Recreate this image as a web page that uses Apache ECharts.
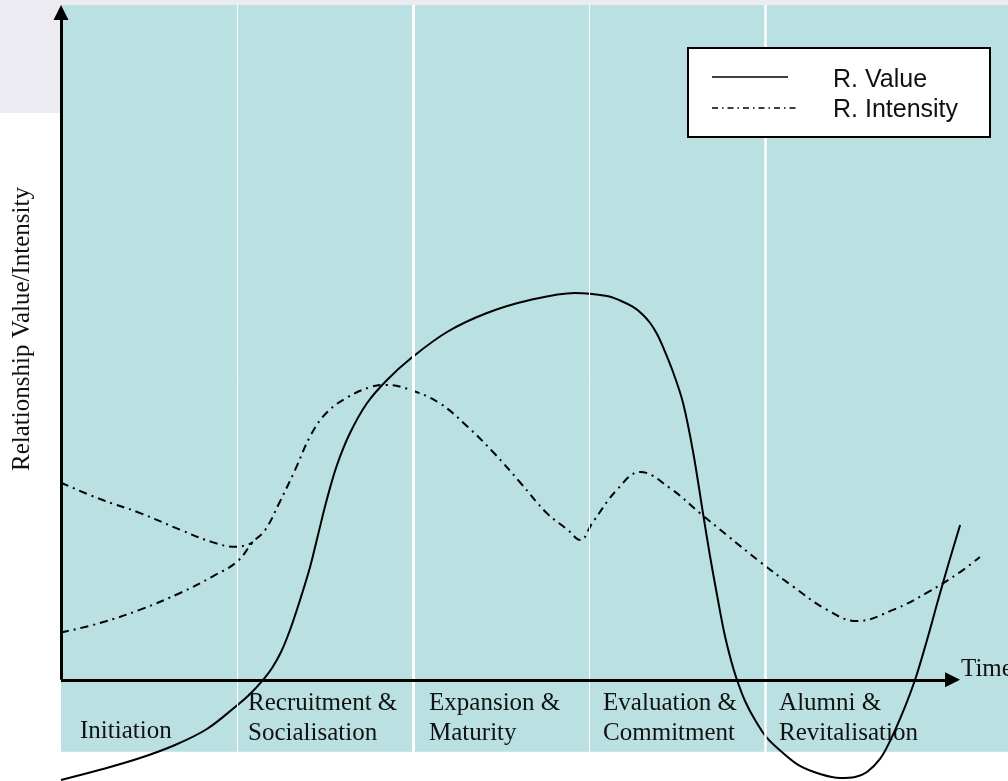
<!DOCTYPE html>
<html><head><meta charset="utf-8">
<script src="https://cdn.jsdelivr.net/npm/echarts@6/dist/echarts.min.js"></script>
<style>html,body{margin:0;padding:0;background:#fff}#c{width:1008px;height:781px}</style>
</head><body><div id="c"></div>
<script>
// ---- data (x in phase units, y in relative value units) ----
const phases = ['Initiation', 'Recruitment &\nSocialisation', 'Expansion &\nMaturity', 'Evaluation &\nCommitment', 'Alumni &\nRevitalisation'];
const phaseBounds = [0, 1, 2, 3, 4, 5.38];
const relValue = [[0,-14.85],[0.222,-13.34],[0.449,-11.59],[0.648,-9.66],[0.829,-7.29],[0.989,-4.03],[1.074,-2.1],[1.148,0],[1.199,1.75],[1.25,4.12],[1.301,7.38],[1.358,11.83],[1.415,16.72],[1.46,21.46],[1.511,26.79],[1.568,31.83],[1.642,36.57],[1.739,41.02],[1.852,44.43],[1.983,47.54],[2.193,51.54],[2.42,54.36],[2.665,56.28],[2.92,57.32],[3.102,56.88],[3.176,56.21],[3.25,55.25],[3.301,54.21],[3.347,52.87],[3.386,51.24],[3.42,49.32],[3.477,45.61],[3.534,41.02],[3.591,33.76],[3.647,24.72],[3.687,18.35],[3.727,12.57],[3.767,7.08],[3.806,2.93],[3.84,0],[3.886,-3.14],[3.943,-5.96],[4.011,-8.62],[4.102,-10.85],[4.198,-12.77],[4.312,-13.96],[4.426,-14.55],[4.511,-14.4],[4.579,-13.66],[4.653,-11.73],[4.71,-9.07],[4.783,-4.77],[4.852,0],[4.92,5.9],[4.983,11.83],[5.045,17.46],[5.108,22.94]];
const relIntensity = [[0,7.0],[0.22,8.4],[0.45,10.4],[0.68,12.9],[0.86,15.3],[1.0,17.5],[1.09,20.4],[1.16,22.2],[1.24,26.2],[1.33,31.1],[1.42,36.3],[1.51,39.6],[1.63,41.9],[1.76,43.4],[1.84,43.7],[1.97,43.1],[2.15,41.0],[2.31,37.5],[2.46,33.6],[2.61,29.2],[2.76,24.7],[2.88,22.2],[2.95,20.7],[3.02,23.3],[3.16,28.2],[3.29,30.8],[3.46,28.4],[3.63,24.7],[3.78,21.5],[3.97,17.5],[4.16,13.8],[4.35,10.4],[4.52,8.7],[4.73,10.4],[4.92,12.9],[5.11,16.0],[5.22,18.2]];
const relIntensityEarly = [[0,29.2],[0.22,26.8],[0.45,24.7],[0.68,22.2],[0.86,20.4],[0.99,19.7],[1.06,20.0],[1.09,20.4]];
const legendNames = ['R. Value', 'R. Intensity'];
const xAxisName = 'Time';
const yAxisName = 'Relationship Value/Intensity';

// ---- layout / style ----
const X_MIN = 0, X_MAX = 5.38, Y_MIN = -15, Y_MAX = 100;
const PANEL_BOTTOM = -10.67;
const TEAL = '#bae0e2';
const SERIF = '"Liberation Serif", "Times New Roman", serif';
const SANS = '"Liberation Sans", Arial, sans-serif';
const DASHDOT = [8, 5, 2, 5];
const labelDx = [19, 11, 16, 14, 14];
const sepWidths = [1, 3, 1, 2.5];

const chart = echarts.init(document.getElementById('c'), null, {renderer: 'canvas'});

const areaData = phases.map((p, i) => {
  const twoLine = p.indexOf('\n') >= 0;
  return [
    {xAxis: phaseBounds[i], yAxis: Y_MAX, name: p,
     label: {show: true, formatter: p, position: [labelDx[i], twoLine ? 683.5 : 711.5],
             align: 'left', verticalAlign: 'top', fontFamily: SERIF, fontSize: 25, lineHeight: 30, color: '#111'}},
    {xAxis: phaseBounds[i + 1], yAxis: PANEL_BOTTOM}
  ];
});
const sepData = phaseBounds.slice(1, 5).map((b, i) => [
  {coord: [b, PANEL_BOTTOM], lineStyle: {color: '#fff', width: sepWidths[i], type: 'solid'}},
  {coord: [b, Y_MAX]}
]);

const option = {
  animation: false,
  grid: {left: 61, right: 0, top: 5, bottom: 0},
  xAxis: {type: 'value', min: X_MIN, max: X_MAX, show: false},
  yAxis: {type: 'value', min: Y_MIN, max: Y_MAX, show: false},
  series: [
    {type: 'line', name: 'phases', data: [], z: 1, silent: true, clip: false,
     markArea: {silent: true, itemStyle: {color: TEAL}, data: areaData},
     markLine: {silent: true, symbol: 'none', label: {show: false}, data: sepData}},
    {type: 'line', name: legendNames[0], data: relValue, smooth: 0.35, symbol: 'none',
     z: 3, clip: false, lineStyle: {color: '#000', width: 2}},
    {type: 'line', name: legendNames[1], data: relIntensity, smooth: 0.4, symbol: 'none',
     z: 3, clip: false, lineStyle: {color: '#000', width: 2, type: DASHDOT}},
    {type: 'line', name: legendNames[1], data: relIntensityEarly, smooth: 0.4, symbol: 'none',
     z: 3, clip: false, lineStyle: {color: '#000', width: 2, type: DASHDOT}},
    {type: 'line', name: 'axes', data: [], z: 5, silent: true, clip: false,
     markLine: {silent: true, symbol: ['none', 'triangle'], symbolSize: [15, 15], label: {show: false},
       lineStyle: {color: '#000', width: 3, type: 'solid'},
       data: [
         [{coord: [0, 0]}, {coord: [5.065, 0]}],
         [{coord: [0, 0]}, {coord: [0, 98.89]}]
       ]}}
  ],
  graphic: [
    {type: 'rect', z: -10, silent: true, shape: {x: 0, y: 0, width: 1008, height: 5}, style: {fill: '#ecebf1'}},
    {type: 'rect', z: -10, silent: true, shape: {x: 0, y: 0, width: 60, height: 113}, style: {fill: '#ecebf1'}},
    {type: 'text', z: 50, x: 961, y: 669, style: {text: xAxisName, font: '25px ' + SERIF, fill: '#111', textAlign: 'left', textVerticalAlign: 'middle'}},
    {type: 'text', z: 50, x: 22, y: 329, rotation: Math.PI / 2, style: {text: yAxisName, font: '25px ' + SERIF, fill: '#111', textAlign: 'center', textVerticalAlign: 'middle'}},
    {type: 'group', z: 100, children: [
      {type: 'rect', z: 100, shape: {x: 688, y: 48, width: 302, height: 89}, style: {fill: '#fff', stroke: '#000', lineWidth: 2}},
      {type: 'line', z: 101, shape: {x1: 712, y1: 77, x2: 788, y2: 77}, style: {stroke: '#000', lineWidth: 1.5}},
      {type: 'line', z: 101, shape: {x1: 712, y1: 108, x2: 797, y2: 108}, style: {stroke: '#000', lineWidth: 1.5, lineDash: [6, 4, 1.5, 4]}},
      {type: 'text', z: 101, x: 833, y: 80, style: {text: legendNames[0], font: '25px ' + SANS, fill: '#111', textAlign: 'left', textVerticalAlign: 'middle'}},
      {type: 'text', z: 101, x: 833, y: 110, style: {text: legendNames[1], font: '25px ' + SANS, fill: '#111', textAlign: 'left', textVerticalAlign: 'middle'}}
    ]}
  ]
};
chart.setOption(option);
</script></body></html>
